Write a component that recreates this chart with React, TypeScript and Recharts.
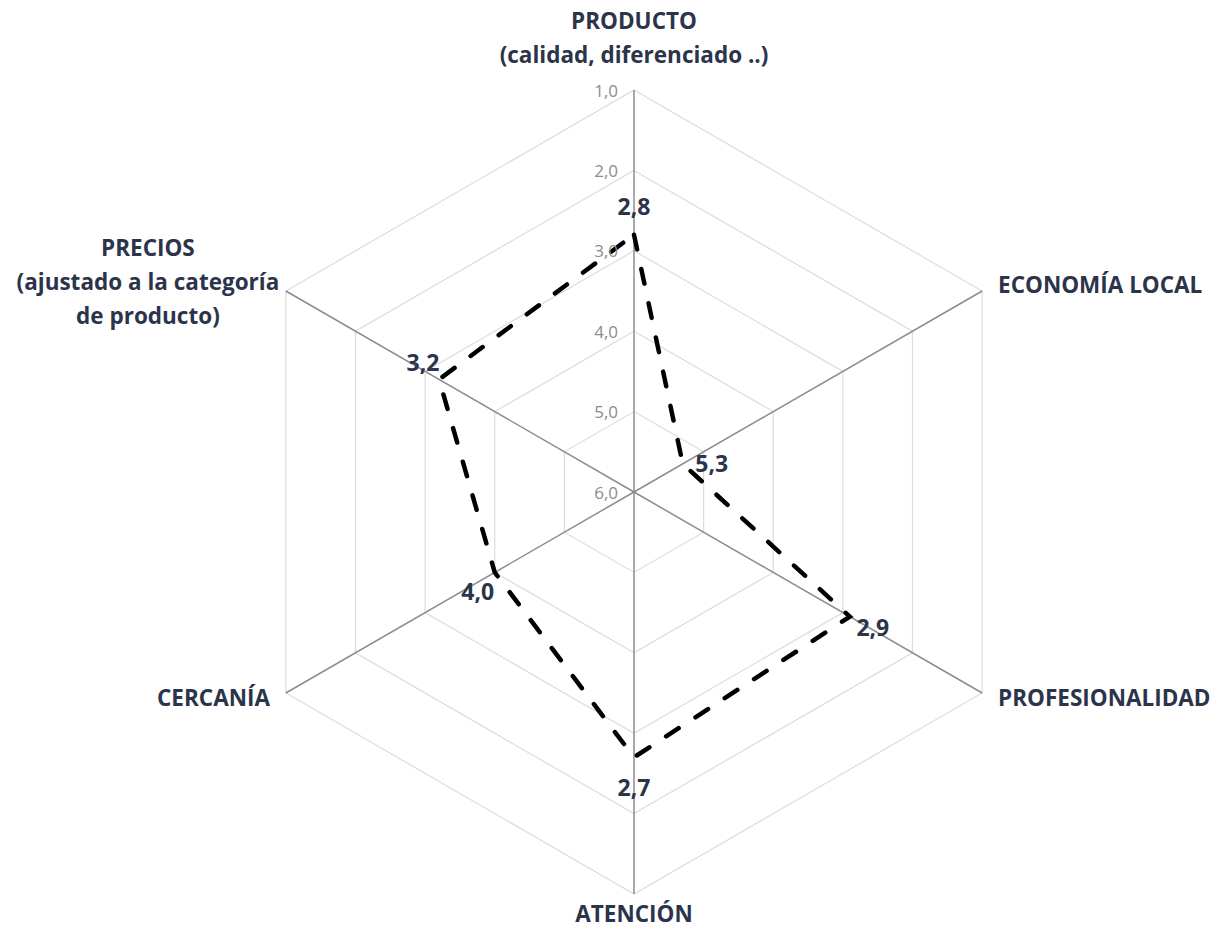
import React from 'react';
import { RadarChart, Radar, PolarGrid, PolarAngleAxis, PolarRadiusAxis, LabelList } from 'recharts';

// ejes (el "\n" separa líneas de la etiqueta)
const categories = [
    'PRODUCTO\n(calidad, diferenciado ..)',
    'ECONOMÍA LOCAL',
    'PROFESIONALIDAD',
    'ATENCIÓN',
    'CERCANÍA',
    'PRECIOS\n(ajustado a la categoría\nde producto)',
];
const values = [2.8, 5.3, 2.9, 2.7, 4.0, 3.2];
const radiusTicks = [1, 2, 3, 4, 5, 6];

const data = categories.map((category, i) => ({ category, value: values[i] }));

const fmt = (v: number) => Number(v).toFixed(1).replace('.', ',');

const NAVY = '#2b344a';
const FONT = '"Open Sans", "Noto Sans", sans-serif';

// desplazamiento de cada etiqueta de dato respecto a su punto
const labelOffsets = [[0, -29], [29, -1], [23, 10], [0, 30], [-17, 19], [-16, -17]];

const AngleTick = (props: any) => {
    const { x, y, payload, textAnchor } = props;
    const lines: string[] = String(payload.value).split('\n');
    const step = 34;
    let anchor = textAnchor;
    let tx = x;
    let startY = y;
    if (textAnchor === 'middle') {
        startY = y < 300 ? y - 28 - (lines.length - 1) * step : y + 11;
    } else if (lines.length > 1) {
        anchor = 'middle';
        tx = x - 131;
        startY = y - 6 - ((lines.length - 1) * step) / 2;
    } else {
        tx = textAnchor === 'start' ? x + 9 : x - 9;
        startY = y < 492 ? y - 3 : y;
    }
    return (
        <text textAnchor={anchor} fill={NAVY} fontSize={22.5} fontWeight={700} fontFamily={FONT}>
            {lines.map((l, i) => (
                <tspan key={i} x={tx} y={startY + i * step} dominantBaseline="central">{l}</tspan>
            ))}
        </text>
    );
};

const RadiusTick = (props: any) => {
    const { x, y, payload } = props;
    return (
        <text x={x - 16} y={y} textAnchor="end" dominantBaseline="central" fill="#8c8c8c" fontSize={17} fontFamily={FONT}>
            {fmt(payload.value)}
        </text>
    );
};

const renderValue = (props: any) => {
    const { x, y, value, index } = props;
    const [dx, dy] = labelOffsets[index] || [0, 0];
    return (
        <text x={x + dx} y={y + dy} textAnchor="middle" dominantBaseline="central" fill={NAVY} fontSize={23} fontWeight={700} fontFamily={FONT}>
            {fmt(value)}
        </text>
    );
};

const App = () => {
    return (
        <div style={{ margin: -8, width: 1220, height: 936 }}>
            <RadarChart width={1220} height={936} cx={634} cy={492} outerRadius={402} data={data} margin={{ top: 0, right: 0, bottom: 0, left: 0 }}>
                <PolarGrid gridType="polygon" radialLines={false} stroke="#dcdcdc" strokeWidth={1.2} />
                <PolarGrid gridType="polygon" radialLines={true} polarRadius={[]} stroke="#8c8c8c" strokeWidth={1.5} />
                <PolarAngleAxis dataKey="category" tick={AngleTick} tickLine={false} axisLine={false} />
                <PolarRadiusAxis angle={90} type="number" domain={[1, 6]} reversed ticks={radiusTicks} tick={RadiusTick} axisLine={false} tickLine={false} />
                <Radar
                    dataKey="value"
                    stroke="#000"
                    strokeWidth={4.5}
                    strokeDasharray="15 20"
                    strokeLinecap="round"
                    fill="none"
                    fillOpacity={0}
                    dot={false}
                    isAnimationActive={false}
                >
                    <LabelList dataKey="value" content={renderValue} />
                </Radar>
            </RadarChart>
        </div>
    );
};

export default App;
